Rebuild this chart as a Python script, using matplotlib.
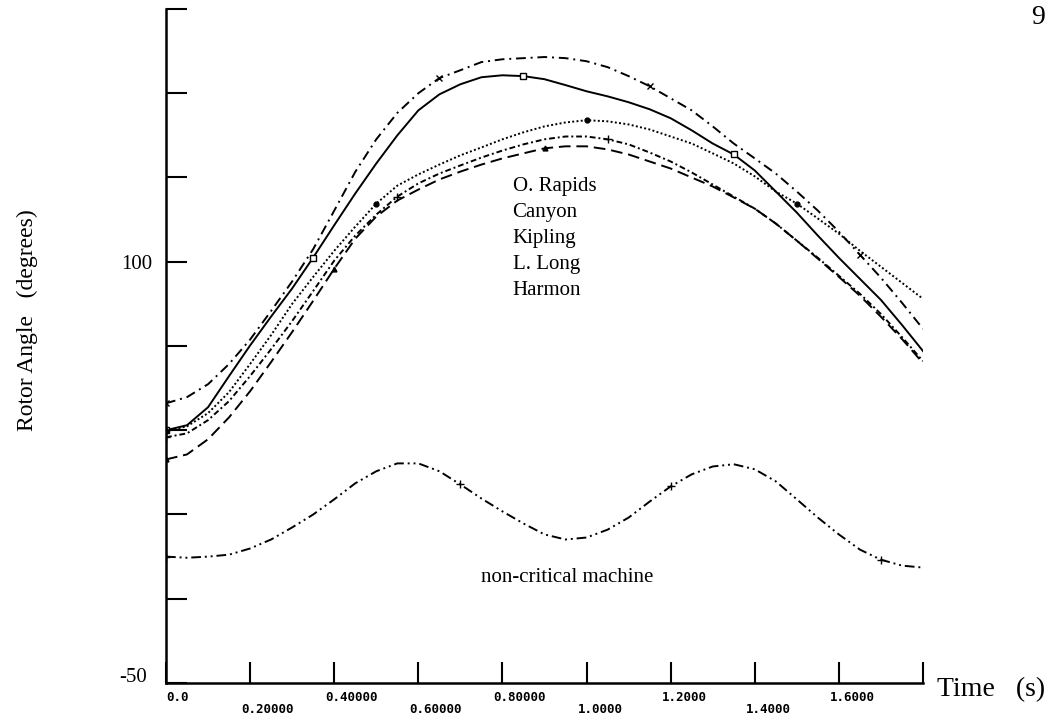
import numpy as np
import matplotlib
matplotlib.use("Agg")
import matplotlib.pyplot as plt
from matplotlib.transforms import ScaledTranslation

# time grid (s), 0.05 s steps
time_s = np.round(np.arange(0, 1.8001, 0.05), 2)

o_rapids = [49.6, 51.8, 56.4, 63.6, 72.3, 82.5, 93.0, 104.5, 118.2, 132.0,
            143.6, 153.0, 160.0, 165.4, 168.2, 171.1, 172.1, 172.5, 172.9, 172.5,
            171.4, 169.3, 166.1, 162.5, 158.2, 153.9, 148.2, 142.1, 136.8, 131.4,
            125.0, 118.2, 110.7, 102.5, 94.3, 85.4, 76.1]
canyon = [40.0, 41.8, 48.2, 59.3, 70.2, 80.5, 90.5, 101.5, 113.0, 124.3,
          135.0, 145.0, 153.9, 159.6, 163.2, 165.7, 166.4, 166.1, 165.0, 162.9,
          160.7, 158.9, 156.8, 154.3, 151.1, 146.8, 142.1, 138.2, 132.5, 125.0,
          117.5, 109.3, 101.4, 93.9, 86.4, 77.5, 68.2]
kipling = [39.6, 41.4, 46.1, 53.6, 63.6, 73.9, 85.0, 94.6, 103.9, 112.5,
           120.7, 127.1, 131.1, 134.6, 137.9, 140.7, 143.6, 146.1, 148.2, 149.6,
           150.4, 150.0, 148.9, 147.1, 144.6, 142.1, 138.6, 135.0, 130.4, 125.0,
           120.7, 115.4, 110.0, 103.9, 98.2, 92.5, 86.8]
l_long = [37.5, 38.9, 43.6, 50.4, 59.3, 68.9, 78.9, 89.6, 100.4, 109.3,
          116.8, 123.2, 127.9, 131.4, 134.3, 137.1, 139.6, 141.8, 143.6, 144.6,
          144.6, 143.6, 141.8, 138.9, 135.7, 131.8, 127.5, 123.2, 118.9, 113.6,
          107.5, 101.4, 95.0, 88.6, 81.4, 73.2, 64.6]
harmon = [29.6, 31.4, 36.8, 44.6, 53.9, 64.3, 75.0, 86.1, 97.5, 108.2,
          116.1, 121.8, 125.7, 129.3, 132.1, 134.6, 136.8, 138.6, 140.4, 141.1,
          141.1, 140.0, 138.2, 135.7, 133.2, 130.0, 126.8, 122.9, 118.9, 113.6,
          107.5, 101.1, 94.6, 87.9, 80.4, 72.5, 63.9]
non_critical = [-5.0, -5.4, -5.0, -4.3, -2.1, 1.1, 5.4, 10.0, 15.4, 21.1,
                25.4, 28.2, 28.2, 25.4, 20.7, 15.7, 11.1, 6.8, 2.9, 1.1,
                1.8, 4.6, 8.9, 14.6, 20.0, 24.3, 27.1, 27.9, 26.1, 21.8,
                15.4, 8.9, 2.9, -2.5, -6.1, -8.2, -8.9]

names = ["O. Rapids", "Canyon", "Kipling", "L. Long", "Harmon"]

x_ticks = [0.0, 0.2, 0.4, 0.6, 0.8, 1.0, 1.2, 1.4, 1.6, 1.8]
x_labels = ["0.0", "0.20000", "0.40000", "0.60000", "0.80000",
            "1.0000", "1.2000", "1.4000", "1.6000", ""]
y_ticks = [-50, -20, 10, 40, 70, 100, 130, 160, 190]
y_labels = ["-50", "", "", "", "", "100", "", "", ""]

serif = "Liberation Serif"

fig = plt.figure(figsize=(10.5, 7.25), dpi=100)
ax = fig.add_axes([166 / 1050, 42 / 725, 757 / 1050, 674 / 725])

lw = 1.4
ax.plot(time_s, o_rapids, color="k", lw=lw, ls=(0, (5, 2.5, 1, 2.5)),
        marker="x", ms=5, markevery=[0, 13, 23, 33])
ax.plot(time_s, canyon, color="k", lw=lw, ls="-",
        marker="s", ms=4, mfc="white", markevery=[0, 7, 17, 27])
ax.plot(time_s, kipling, color="k", lw=lw, ls=(0, (1, 1.2)),
        marker="o", ms=3.5, markevery=[0, 10, 20, 30])
ax.plot(time_s, l_long, color="k", lw=lw, ls=(0, (3, 1.5, 1, 1.5)),
        marker="+", ms=6, markevery=[0, 11, 21])
ax.plot(time_s, harmon, color="k", lw=lw, ls=(0, (6, 3)),
        marker="^", ms=3.5, markevery=[0, 8, 18])
ax.plot(time_s, non_critical, color="k", lw=lw, ls=(0, (5, 2, 1, 2, 1, 2)),
        marker="+", ms=6, markevery=[0, 14, 24, 34])

ax.set_xlim(0, 1.8)
ax.set_ylim(-50, 190)
for side in ["top", "right"]:
    ax.spines[side].set_visible(False)
for side in ["left", "bottom"]:
    ax.spines[side].set_linewidth(1.8)

ax.set_xticks(x_ticks)
ax.set_xticklabels(x_labels, family="DejaVu Sans Mono", fontweight="bold",
                   fontsize=9, ha="left", va="top")
ax.set_yticks(y_ticks)
ax.set_yticklabels(y_labels, family=serif, fontsize=15)
ax.tick_params(axis="both", direction="in", length=15, width=1.5)
ax.tick_params(axis="x", pad=6)
ax.tick_params(axis="y", pad=10)

# staggered x labels: every second one on a lower row
for i, lab in enumerate(ax.get_xticklabels()):
    dx = 0 if i == 0 else -6.5
    dy = -8.6 if i % 2 else 0
    lab.set_transform(lab.get_transform()
                      + ScaledTranslation(dx / 72, dy / 72, fig.dpi_scale_trans))
lab = ax.get_yticklabels()[0]
lab.set_transform(lab.get_transform()
                  + ScaledTranslation(-4 / 72, 6 / 72, fig.dpi_scale_trans))

# curve names and annotation
for i, name in enumerate(names):
    ax.text(0.824, 126.8 - i * 9.3, name, family=serif, fontsize=15, va="center")
ax.text(0.955, -12.5, "non-critical machine", family=serif, fontsize=15,
        ha="center", va="center")

fig.text(27 / 1050, 1 - 320 / 725, "Rotor Angle   (degrees)", family=serif,
         fontsize=17, rotation=90, ha="center", va="center")
fig.text(937 / 1050, 1 - 690 / 725, "Time   (s)", family=serif, fontsize=20,
         ha="left", va="center")
fig.text(1031 / 1050, 1 - 5 / 725, "9", family=serif, fontsize=20,
         ha="left", va="top")

fig.savefig("out.png", dpi=100)
